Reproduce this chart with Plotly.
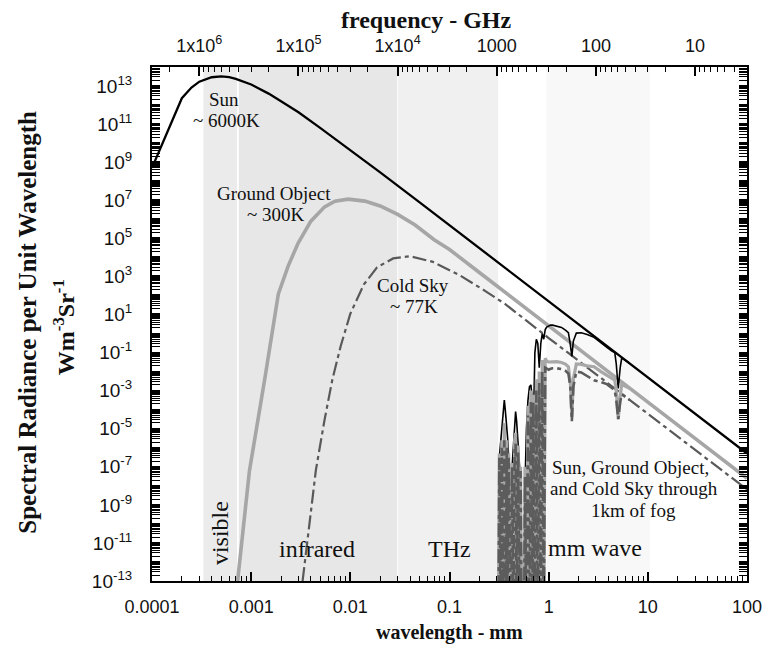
import math
import plotly.graph_objects as go

# ---------------- data ----------------
# wavelength in mm, spectral radiance in W m^-3 sr^-1
sun_wl = [1e-4, 2e-4, 2.5e-4, 3e-4, 4e-4, 5e-4, 6e-4, 7e-4, 1e-3, 1.5e-3, 2e-3, 3e-3,
          5e-3, 0.01, 0.02, 0.05, 0.1, 1, 10, 100]
sun_val = [5e8, 2.3e12, 8.3e12, 1.7e13, 2.9e13, 3.2e13, 2.9e13, 2.4e13, 1.2e13, 4e12, 1.6e12,
           4.2e11, 6.2e10, 4.4e9, 2.9e8, 7.8e6, 4.9e5, 50, 5e-3, 5e-7]

ground_wl = [7.3e-4, 9.6e-4, 1.38e-3, 1.88e-3, 2.36e-3, 2.97e-3, 4.0e-3, 5.5e-3, 7.0e-3,
             9.5e-3, 0.014, 0.02, 0.03, 0.045, 0.07, 0.1, 0.2, 0.5, 1, 10, 100]
ground_val = [1e-13, 6e-8, 5e-3, 1.2e2, 3.5e3, 5.5e4, 8e5, 4.5e6, 9e6, 1.15e7, 9e6, 5e6,
              1.8e6, 5e5, 8.5e4, 2.6e4, 1.6e3, 40, 2.42, 2.5e-4, 2.5e-8]

sky_wl = [3.3e-3, 4.5e-3, 5.5e-3, 6.6e-3, 8e-3, 0.01, 0.0137, 0.0186, 0.027, 0.04, 0.068,
          0.125, 0.23, 0.365, 1, 10, 100]
sky_val = [1e-13, 7e-8, 3e-5, 4e-3, 0.22, 11, 380, 3e3, 8.8e3, 1.15e4, 5.8e3, 1.2e3, 170, 35,
           0.58, 6.3e-5, 6.4e-9]

# through 1 km of fog
fog_wl = [0.290, 0.311, 0.318, 0.329, 0.337, 0.349, 0.357, 0.365, 0.378, 0.386, 0.395, 0.404,
          0.418, 0.428, 0.443, 0.454, 0.464, 0.475, 0.491, 0.509, 0.521, 0.533,
          0.564, 0.577, 0.597, 0.618, 0.640, 0.662, 0.685, 0.701, 0.726, 0.751, 0.777, 0.804,
          0.833, 0.862, 0.892, 0.923, 0.955, 1.0,
          1.047, 1.096, 1.201, 1.347, 1.476, 1.581, 1.655, 1.713, 1.774, 1.900, 2.130, 2.444,
          2.870, 3.369, 3.865, 4.334, 4.642, 4.805, 5.029, 5.264, 5.448, 5.837, 6.546]
fog_sun = [1e-16, 1e-16, 3e-7, 3e-6, 1.6e-5, 1e-4, 3.2e-4, 1e-4, 1.6e-5, 3e-6, 3e-7, 1e-16,
           1e-16, 1e-7, 3e-6, 2.5e-5, 8e-5, 2.5e-5, 3e-6, 1e-7, 1e-8, 1e-16,
           1e-16, 1e-8, 1e-5, 3e-4, 1.6e-3, 2e-3, 3e-4, 1e-5, 0.1, 0.5, 0.3, 0.016,
           0.3, 1, 0.5, 1.6, 2.2, 2.6,
           2.8, 2.75, 2.5, 2.1, 1.5, 1.1, 0.25, 0.063, 0.4, 1.05, 1.1, 0.9,
           0.63, 0.35, 0.19, 0.12, 0.1, 0.025, 1.3e-3, 0.016, 0.05, 0.042, 0.027]
fog_ground = [1e-16, 1e-16, 5e-7, 1e-16, 2.5e-6, 1e-16, 2e-5, 1e-16, 2.5e-6, 1e-16, 5e-7, 1e-16,
              1e-16, 1.6e-7, 1e-16, 2.5e-6, 6e-6, 1e-16, 1.3e-6, 1e-16, 1e-7, 1e-16,
              1e-16, 1e-7, 1e-16, 1.6e-4, 1e-16, 1e-3, 1e-16, 6e-4, 1e-16, 4e-3, 1e-16, 0.01,
              1e-16, 0.04, 1e-16, 0.05, 0.035, 0.032,
              0.033, 0.034, 0.033, 0.030, 0.025, 0.018, 2.5e-3, 4e-5, 4e-3, 0.025, 0.024, 0.02,
              0.018, 0.01, 6.3e-3, 4.5e-3, 3.5e-3, 1e-3, 3.2e-5, 5e-4, 2e-3, 1.8e-3, 1.3e-3]
fog_sky = [1e-16, 1e-16, 3e-7, 1e-16, 1e-6, 1e-16, 2.5e-6, 1e-16, 1e-6, 1e-16, 3e-7, 1e-16,
           1e-16, 1e-7, 1e-16, 1e-6, 1.6e-6, 1e-16, 6e-7, 1e-16, 6e-8, 1e-16,
           1e-16, 3e-8, 1e-16, 5e-5, 1e-16, 2.5e-4, 1e-16, 2.5e-4, 1e-16, 1e-3, 1e-16, 2.5e-3,
           1e-16, 0.01, 1e-16, 0.016, 0.014, 0.0126,
           0.014, 0.015, 0.015, 0.0135, 0.011, 8e-3, 1.6e-3, 2.5e-5, 1.6e-3, 0.01, 9e-3, 5.6e-3,
           3.5e-3, 2.8e-3, 2.2e-3, 1.4e-3, 1e-3, 3.2e-4, 3.2e-5, 2.5e-4, 6.3e-4, 5e-4, 3.2e-4]

# spectral bands (wavelength limits, mm)
band_names = ["visible", "infrared", "THz", "mm wave"]
band_lo = [3.3e-4, 7.5e-4, 0.0303, 0.95]
band_hi = [7.2e-4, 0.0297, 0.31, 10.5]
band_colors = ["#ebebeb", "#e7e7e7", "#f0f0f0", "#f8f8f8"]

# ticks
x_tickvals = [1e-4, 1e-3, 1e-2, 0.1, 1, 10, 100]
x_ticktext = ["0.0001", "0.001", "0.01", "0.1", "1", "10", "100"]
y_exps = list(range(-13, 15))
y_tickvals = [10.0 ** e for e in y_exps]
y_ticktext = ["10<sup>%d</sup>" % e if e % 2 else "" for e in y_exps]
f_tickvals = [1e6, 1e5, 1e4, 1000, 100, 10]
f_ticktext = ["1x10<sup>6</sup>", "1x10<sup>5</sup>", "1x10<sup>4</sup>", "1000", "100", "10"]
C_MM_GHZ = 299.792458  # f[GHz] * lambda[mm]

# ---------------- layout geometry ----------------
# the page body adds an 8px offset, so the figure is drawn 8px smaller
OFF = 8
W, H = 774 - OFF, 647 - OFF
L, R, T, B = 152, 755, 67, 581   # plot-area edges in window pixels


def px(x):
    return (x - L) / (R - L)


def py(y):
    return (B - y) / (B - T)


fig = go.Figure()

SERIF = "Liberation Serif"
SANS = "Liberation Sans"
dash_sky = "14px,4px,4px,4px"

fig.add_trace(go.Scatter(x=sun_wl, y=sun_val, mode="lines",
                         line=dict(color="black", width=2.3), hoverinfo="skip"))
fig.add_trace(go.Scatter(x=ground_wl, y=ground_val, mode="lines",
                         line=dict(color="#a6a6a6", width=3.6), hoverinfo="skip"))
fig.add_trace(go.Scatter(x=sky_wl, y=sky_val, mode="lines",
                         line=dict(color="#595959", width=2.2, dash=dash_sky), hoverinfo="skip"))
fig.add_trace(go.Scatter(x=fog_wl, y=fog_sun, mode="lines",
                         line=dict(color="black", width=1.6), hoverinfo="skip"))
fig.add_trace(go.Scatter(x=fog_wl, y=fog_ground, mode="lines",
                         line=dict(color="#a8a8a8", width=3.2), hoverinfo="skip"))
fig.add_trace(go.Scatter(x=fog_wl, y=fog_sky, mode="lines",
                         line=dict(color="#5c5c5c", width=2.6, dash=dash_sky), hoverinfo="skip"))
# invisible trace to bind the top frequency axis
fig.add_trace(go.Scatter(x=[C_MM_GHZ / 1e-4, C_MM_GHZ / 100], y=[1e-30, 1e-30], xaxis="x2",
                         mode="lines", line=dict(width=0), opacity=0, hoverinfo="skip"))

shapes = []
for lo, hi, col in zip(band_lo, band_hi, band_colors):
    shapes.append(dict(type="rect", xref="x", yref="paper", x0=lo, x1=hi,
                       y0=0, y1=1, fillcolor=col, line=dict(width=0), layer="below"))

ann = []


def add_text(text, x, y, size, bold=False, angle=0, family=SERIF, color="#111111"):
    if bold:
        text = "<b>" + text + "</b>"
    ann.append(dict(text=text, x=px(x), y=py(y), xref="paper", yref="paper", showarrow=False,
                    xanchor="center", yanchor="middle", textangle=angle,
                    font=dict(family=family, size=size, color=color)))


add_text("Sun", 225, 99, 19)
add_text("~ 6000K", 227, 121, 19)
add_text("Ground Object", 276, 193, 19)
add_text("~ 300K", 278, 214, 19)
add_text("Cold Sky", 417, 285, 19)
add_text("~ 77K", 418, 306, 19)
add_text("Sun, Ground Object,", 637, 467, 19)
add_text("and Cold Sky through", 640, 488, 19)
add_text("1km of fog", 640, 510, 19)
add_text(band_names[0], 221, 533, 24, angle=-90)
add_text(band_names[1], 319, 549, 24)
add_text(band_names[2], 453, 549, 24)
add_text(band_names[3], 601, 548, 24)

add_text("frequency - GHz", 430, 20, 24, bold=True)
add_text("wavelength - mm", 453, 632, 20, bold=True)
add_text("Spectral Radiance per Unit Wavelength", 25, 322, 25, bold=True, angle=-90)
add_text("Wm<sup>-3</sup>Sr<sup>-1</sup>", 63, 327, 24, bold=True, angle=-90)

x_minor = [m * 10.0 ** e for e in range(-4, 2) for m in range(2, 10)]
y_minor = [m * 10.0 ** e for e in range(-13, 14) for m in range(2, 10)]
f_minor = [m * 10.0 ** e for e in range(0, 7) for m in range(2, 10)
           if 2.998 < m * 10.0 ** e < 2.998e6]

fig.update_layout(
    width=W, height=H,
    margin=dict(l=L - OFF, r=774 - R, t=T - OFF, b=647 - B, pad=0),
    paper_bgcolor="white", plot_bgcolor="white",
    showlegend=False,
    shapes=shapes, annotations=ann,
    xaxis=dict(type="log", range=[-4, 2], tickmode="array", tickvals=x_tickvals,
               ticktext=x_ticktext, ticks="inside", ticklen=9, tickwidth=1.5, tickcolor="black",
               showline=True, linewidth=2, linecolor="black", mirror=True,
               showgrid=False, zeroline=False, ticklabelstandoff=8,
               tickfont=dict(family=SANS, size=18, color="#111111"),
               minor=dict(tickmode="array", tickvals=x_minor, ticks="inside", ticklen=5,
                          tickwidth=1, tickcolor="black", showgrid=False)),
    xaxis2=dict(type="log", overlaying="x", side="top", anchor="y",
                range=[math.log10(C_MM_GHZ / 1e-4), math.log10(C_MM_GHZ / 100)],
                tickmode="array", tickvals=f_tickvals, ticktext=f_ticktext,
                ticks="inside", ticklen=9, tickwidth=1.5, tickcolor="black",
                showline=True, linewidth=2, linecolor="black",
                showgrid=False, zeroline=False, ticklabelstandoff=6,
                tickfont=dict(family=SANS, size=18, color="#111111"),
                minor=dict(tickmode="array", tickvals=f_minor, ticks="inside", ticklen=5,
                           tickwidth=1, tickcolor="black", showgrid=False)),
    yaxis=dict(type="log", range=[-13, 14], tickmode="array", tickvals=y_tickvals,
               ticktext=y_ticktext, ticks="inside", ticklen=8, tickwidth=1.5, tickcolor="black",
               showline=True, linewidth=2, linecolor="black", mirror="allticks",
               showgrid=False, zeroline=False, ticklabelstandoff=14,
               tickfont=dict(family=SANS, size=19, color="#111111"),
               minor=dict(tickmode="array", tickvals=y_minor, ticks="inside", ticklen=4,
                          tickwidth=1, tickcolor="black", showgrid=False)),
)

fig.write_html("out.html")
